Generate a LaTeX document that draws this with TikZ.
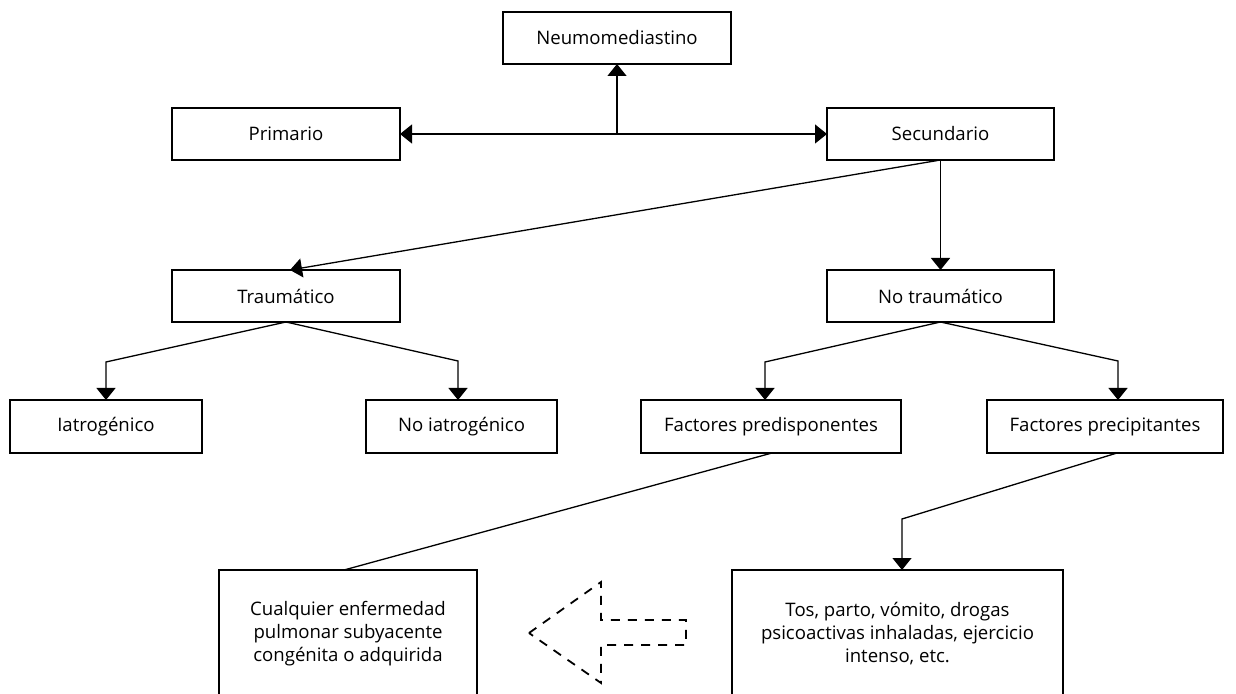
\documentclass[tikz,border=0pt]{standalone}
\usepackage{fontspec}
\setmainfont{Open Sans}
\usetikzlibrary{arrows.meta}
\begin{document}
\begin{tikzpicture}[x=0.5pt,y=-0.5pt,
  box/.style={draw=black, line width=0.65pt, fill=white, inner sep=0pt, outer sep=0pt,
    font=\fontsize{9.3}{11.5}\selectfont, align=center},
  conn/.style={draw=black, line width=0.65pt},
  arr/.style={conn, -{Triangle[width=9.5pt,length=6pt]}},
  dasharrow/.style={draw=black, line width=0.9pt, dash pattern=on 4.5pt off 4pt}
]
\useasboundingbox (0,0) rectangle (1236,694);
\clip (0,0) rectangle (1236,694);

% boxes
\node[box, minimum width=114pt, minimum height=26pt] (neumo) at (617,38) {Neumomediastino};
\node[box, minimum width=114pt, minimum height=26pt] (prim) at (286,134) {Primario};
\node[box, minimum width=113.5pt, minimum height=26pt] (sec) at (940.5,134) {Secundario};
\node[box, minimum width=114pt, minimum height=26pt] (trau) at (286,296) {Traumático};
\node[box, minimum width=113.5pt, minimum height=26pt] (notrau) at (940.5,296) {No traumático};
\node[box, minimum width=96pt, minimum height=26.5pt] (iat) at (106,426.5) {Iatrogénico};
\node[box, minimum width=95.5pt, minimum height=26.5pt] (noiat) at (461.5,426.5) {No iatrogénico};
\node[box, minimum width=130pt, minimum height=26.5pt] (pred) at (771,426.5) {Factores predisponentes};
\node[box, minimum width=118pt, minimum height=26.5pt] (prec) at (1105,426.5) {Factores precipitantes};
\node[box, minimum width=129pt, minimum height=64pt] (cual) at (348,634)
  {Cualquier enfermedad\\pulmonar subyacente\\congénita o adquirida};
\node[box, minimum width=165.5pt, minimum height=64pt] (tos) at (897.5,634)
  {Tos, parto, vómito, drogas\\psicoactivas inhaladas, ejercicio\\intenso, etc.};

% top connectors
\coordinate (mid) at (neumo.south |- prim.east);
\draw[arr] (mid) -- (neumo.south);
\draw[arr] (mid) -- (prim.east);
\draw[arr] (mid) -- (sec.west);

% secundario
\draw[arr] (sec.south) -- ([xshift=2pt]trau.north);
\draw[arr] (sec.south) -- (notrau.north);

% traumatico
\coordinate (t1) at (106,362);
\coordinate (t2) at (458,361);
\draw[arr] (trau.south) -- (t1) -- (t1 |- iat.north);
\draw[arr] (trau.south) -- (t2) -- (t2 |- noiat.north);

% no traumatico
\coordinate (n1) at (765,362);
\coordinate (n2) at (1118,361);
\draw[arr] (notrau.south) -- (n1) -- (n1 |- pred.north);
\draw[arr] (notrau.south) -- (n2) -- (n2 |- prec.north);

% bottom
\draw[conn] ([xshift=0.5pt]pred.south) -- ([xshift=-2pt]cual.north);
\coordinate (p1) at (902,519);
\draw[arr] ([xshift=6pt]prec.south) -- (p1) -- (p1 |- tos.north);

% dashed arrow
\draw[dasharrow] (529,633) -- (601,582) -- (601,620) -- (686,620) -- (686,645)
  -- (601,645) -- (601,683) -- cycle;
\end{tikzpicture}
\end{document}
